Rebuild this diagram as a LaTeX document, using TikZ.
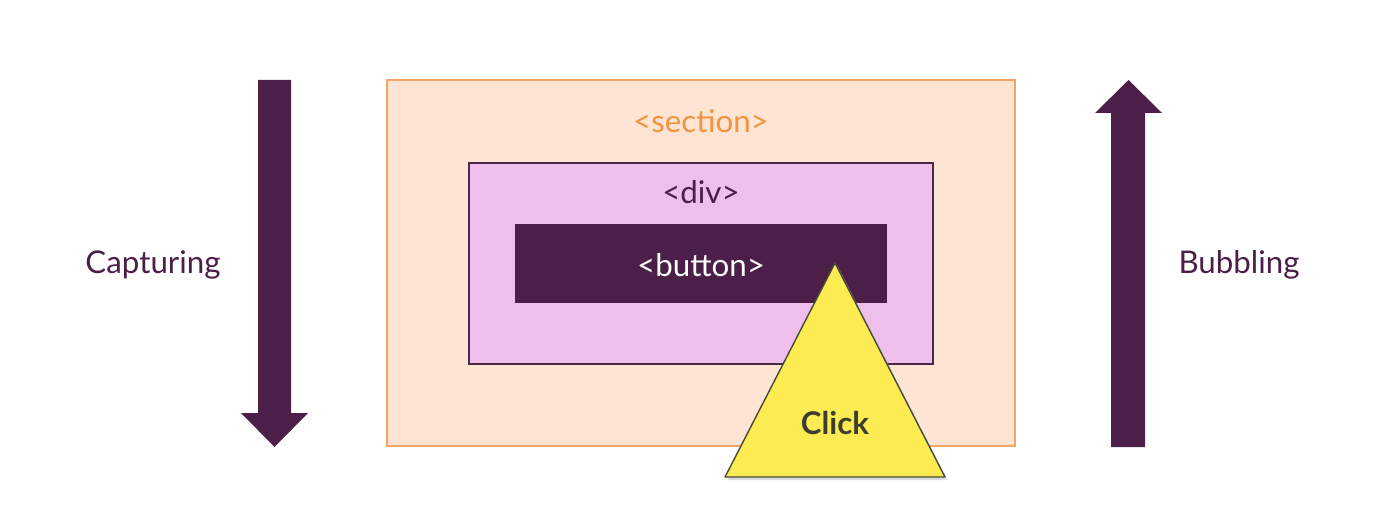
\documentclass[tikz,border=0pt]{standalone}
\usepackage{fontspec}
\setmainfont{Lato}
\usepackage{tikz}
\definecolor{plum}{HTML}{4B1F48}
\definecolor{sectionfill}{HTML}{FEE5D3}
\definecolor{sectionline}{HTML}{F3A469}
\definecolor{sectiontext}{HTML}{F29340}
\definecolor{divfill}{HTML}{EDBFEA}
\definecolor{divline}{HTML}{4A2A48}
\definecolor{clickfill}{HTML}{FCEC52}
\definecolor{clickline}{HTML}{4A4A3A}
\definecolor{clicktext}{HTML}{3E3E30}
\begin{document}
\begin{tikzpicture}[x=0.02cm, y=0.02cm]
    \tikzstyle{every node}+=[inner sep=0pt, font=\fontsize{17.8}{21}\selectfont]
    \useasboundingbox (0,0) rectangle (1381,-530);
    % boxes
    \draw [sectionline, fill=sectionfill, line width=0.8pt] (387,-80) rectangle (1015,-446);
    \draw (701,-121) node [text=sectiontext] (sectionlabel) {<section>};
    \draw [divline, fill=divfill, line width=0.6pt] (469,-163) rectangle (933,-364);
    \draw (701,-192) node [text=plum] (divlabel) {<div>};
    \fill [plum] (515,-224) rectangle (887,-303);
    \draw (701,-265) node [text=white] (buttonlabel) {<button>};
    % click triangle
    \fill [black!30, opacity=0.45] (837.5,-265.5) -- (947.5,-480) -- (727.5,-480) -- cycle;
    \draw [clickline, fill=clickfill, line width=0.8pt, line join=round] (835,-263) -- (945,-477) -- (725,-477) -- cycle;
    \draw (835,-423) node [text=clicktext, font=\fontsize{17.8}{21}\selectfont\bfseries] (clicklabel) {Click};
    % capturing arrow
    \fill [plum] (258,-80) -- (291,-80) -- (291,-413) -- (308,-413) -- (274.5,-447) -- (241,-413) -- (258,-413) -- cycle;
    \draw (153,-265) node [text=plum] (capturing) {Capturing};
    % bubbling arrow
    \fill [plum] (1111,-447) -- (1145,-447) -- (1145,-113) -- (1162,-113) -- (1128.5,-80) -- (1095,-113) -- (1111,-113) -- cycle;
    \draw (1239,-265) node [text=plum] (bubbling) {Bubbling};
\end{tikzpicture}
\end{document}
